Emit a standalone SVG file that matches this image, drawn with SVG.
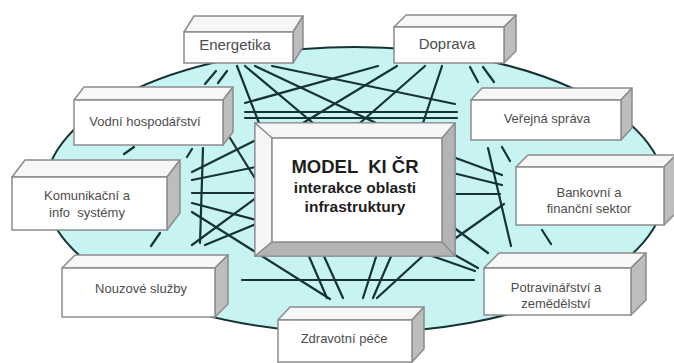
<svg xmlns="http://www.w3.org/2000/svg" width="674" height="363" viewBox="0 0 674 363">
  <style>
    .field { fill: #c8f3f3; stroke: #173232; stroke-width: 2; }
    .link { stroke: #173232; stroke-width: 2.2; stroke-linecap: round; fill: none; }
    .front { fill: #ffffff; stroke: #8c8c8c; stroke-width: 1.5; }
    .top { fill: #f7f7f7; stroke: #8c8c8c; stroke-width: 1.5; stroke-linejoin: round; }
    .side { fill: #bdbdbd; stroke: #8c8c8c; stroke-width: 1.5; stroke-linejoin: round; }
    .lbl { font-family: "Liberation Sans", Arial, sans-serif; font-size: 13px; fill: #4d4d4d; text-anchor: middle; white-space: pre; }
    .lbl-big { font-size: 15px; }
    .core-face { fill: #ffffff; stroke: #8c8c8c; stroke-width: 1.5; }
    .bevel-light { fill: #f6f6f6; stroke: #8c8c8c; stroke-width: 1.2; stroke-linejoin: round; }
    .bevel-dark { fill: #b4b4b4; stroke: #8c8c8c; stroke-width: 1.2; stroke-linejoin: round; }
    .core-txt { font-family: "Liberation Sans", Arial, sans-serif; font-weight: bold; fill: #1e1e1e; text-anchor: middle; white-space: pre; }
  </style>

  <!-- background -->
  <rect x="0" y="0" width="674" height="363" fill="#ffffff"/>

  <!-- shared field -->
  <ellipse class="field" cx="355" cy="190" rx="310" ry="143"/>

  <!-- connectors between the areas -->
  <g id="connectors" class="link">
    <!-- upper band -->
    <line x1="205" y1="84" x2="216" y2="71"/>
    <line x1="218" y1="83" x2="227" y2="71"/>
    <line x1="237" y1="66" x2="259" y2="123"/>
    <line x1="245" y1="66" x2="313" y2="123"/>
    <line x1="255" y1="66" x2="376" y2="123"/>
    <line x1="272" y1="66" x2="455" y2="104"/>
    <line x1="378" y1="66" x2="245" y2="103"/>
    <line x1="397" y1="66" x2="303" y2="123"/>
    <line x1="425" y1="66" x2="360" y2="123"/>
    <line x1="442" y1="66" x2="423" y2="123"/>
    <line x1="470" y1="67" x2="478" y2="82"/>
    <line x1="483" y1="67" x2="494" y2="82"/>
    <line x1="245" y1="112" x2="457" y2="112"/>
    <line x1="245" y1="118" x2="457" y2="118"/>
    <!-- left band -->
    <line x1="124" y1="154" x2="134" y2="147"/>
    <line x1="187" y1="157" x2="192" y2="149"/>
    <line x1="151" y1="246" x2="160" y2="233"/>
    <line x1="230" y1="138" x2="256" y2="180"/>
    <line x1="203" y1="148" x2="200" y2="243"/>
    <line x1="192" y1="172" x2="256" y2="140"/>
    <line x1="192" y1="180" x2="256" y2="167"/>
    <line x1="192" y1="193" x2="256" y2="193"/>
    <line x1="192" y1="203" x2="256" y2="220"/>
    <line x1="192" y1="212" x2="330" y2="299"/>
    <line x1="192" y1="245" x2="256" y2="198"/>
    <line x1="205" y1="245" x2="256" y2="224"/>
    <!-- lower band -->
    <line x1="242" y1="280" x2="474" y2="280"/>
    <line x1="308" y1="254" x2="327" y2="298"/>
    <line x1="323" y1="254" x2="343" y2="298"/>
    <line x1="377" y1="254" x2="363" y2="298"/>
    <line x1="392" y1="254" x2="373" y2="298"/>
    <line x1="425" y1="254" x2="377" y2="298"/>
    <line x1="415" y1="250" x2="475" y2="271"/>
    <line x1="446" y1="250" x2="478" y2="268"/>
    <!-- right band -->
    <line x1="453" y1="157" x2="502" y2="175"/>
    <line x1="453" y1="173" x2="502" y2="185"/>
    <line x1="453" y1="194" x2="500" y2="194"/>
    <line x1="488" y1="148" x2="511" y2="246"/>
    <line x1="453" y1="240" x2="504" y2="204"/>
    <line x1="453" y1="227" x2="488" y2="253"/>
    <line x1="502" y1="147" x2="510" y2="161"/>
    <line x1="542" y1="230" x2="551" y2="244"/>
  </g>

  <!-- central model block -->
  <g id="model-ki-cr">
    <rect class="core-face" x="255" y="123" width="200" height="133"/>
    <polygon class="bevel-light" points="255,123 455,123 442,138 272,138"/>
    <polygon class="bevel-light" points="255,123 272,138 272,242 255,256"/>
    <polygon class="bevel-dark" points="455,123 455,256 442,242 442,138"/>
    <polygon class="bevel-dark" points="255,256 455,256 442,242 272,242"/>
    <rect class="core-face" x="272" y="138" width="170" height="104"/>
    <text class="core-txt" x="355" y="173" font-size="18.5">MODEL  KI ČR</text>
    <text class="core-txt" x="355" y="193" font-size="15.5">interakce oblasti</text>
    <text class="core-txt" x="355" y="212" font-size="15.5">infrastruktury</text>
  </g>

  <!-- Energetika -->
  <g id="energetika">
    <polygon class="top" points="184,32 194,16 303,16 293,32"/>
    <polygon class="side" points="293,32 303,16 303,47 293,63"/>
    <rect class="front" x="184" y="32" width="109" height="31"/>
    <text class="lbl lbl-big" x="235" y="50">Energetika</text>
  </g>

  <!-- Doprava -->
  <g id="doprava">
    <polygon class="top" points="394,27 406,15 516,15 504,27"/>
    <polygon class="side" points="504,27 516,15 516,51 504,63"/>
    <rect class="front" x="394" y="27" width="110" height="36"/>
    <text class="lbl lbl-big" x="447" y="49">Doprava</text>
  </g>

  <!-- Vodní hospodářství -->
  <g id="vodni-hospodarstvi">
    <polygon class="top" points="74,100 84,87 233,87 223,100"/>
    <polygon class="side" points="223,100 233,87 233,132 223,145"/>
    <rect class="front" x="74" y="100" width="149" height="45"/>
    <text class="lbl" x="145" y="126">Vodní hospodářství</text>
  </g>

  <!-- Veřejná správa -->
  <g id="verejna-sprava">
    <polygon class="top" points="471,100 482,88 632,88 621,100"/>
    <polygon class="side" points="621,100 632,88 632,128 621,140"/>
    <rect class="front" x="471" y="100" width="150" height="40"/>
    <text class="lbl" x="547" y="123">Veřejná správa</text>
  </g>

  <!-- Komunikační a info systémy -->
  <g id="komunikacni-systemy">
    <polygon class="top" points="12,177 25,160 180,160 167,177"/>
    <polygon class="side" points="167,177 180,160 180,213 167,230"/>
    <rect class="front" x="12" y="177" width="155" height="53"/>
    <text class="lbl" x="87" y="200">Komunikační a</text>
    <text class="lbl" x="87" y="217">info  systémy</text>
  </g>

  <!-- Bankovní a finanční sektor -->
  <g id="bankovni-sektor">
    <polygon class="top" points="516,167 528,155 676,155 664,167"/>
    <polygon class="side" points="664,167 676,155 676,213 664,225"/>
    <rect class="front" x="516" y="167" width="148" height="58"/>
    <text class="lbl" x="589" y="197">Bankovní a</text>
    <text class="lbl" x="589" y="213">finanční sektor</text>
  </g>

  <!-- Nouzové služby -->
  <g id="nouzove-sluzby">
    <polygon class="top" points="62,268 75,255 228,255 215,268"/>
    <polygon class="side" points="215,268 228,255 228,304 215,317"/>
    <rect class="front" x="62" y="268" width="153" height="49"/>
    <text class="lbl" x="141" y="293">Nouzové služby</text>
  </g>

  <!-- Potravinářství a zemědělství -->
  <g id="potravinarstvi">
    <polygon class="top" points="484,268 499,253 646,253 631,268"/>
    <polygon class="side" points="631,268 646,253 646,300 631,315"/>
    <rect class="front" x="484" y="268" width="147" height="47"/>
    <text class="lbl" x="556" y="292">Potravinářství a</text>
    <text class="lbl" x="556" y="308">zemědělství</text>
  </g>

  <!-- Zdravotní péče -->
  <g id="zdravotni-pece">
    <polygon class="top" points="278,320 290,307 424,307 412,320"/>
    <polygon class="side" points="412,320 424,307 424,349 412,362"/>
    <rect class="front" x="278" y="320" width="134" height="42"/>
    <text class="lbl" x="344" y="343">Zdravotní péče</text>
  </g>
</svg>
